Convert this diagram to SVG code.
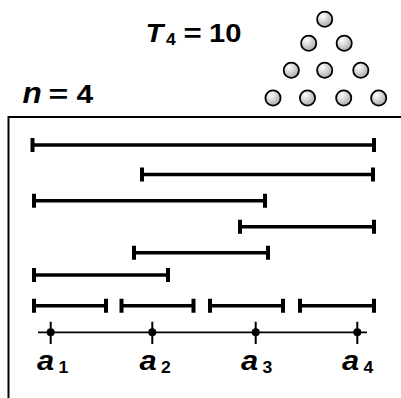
<svg xmlns="http://www.w3.org/2000/svg" width="401" height="398" viewBox="0 0 401 398">
<defs>
<radialGradient id="ball" cx="35%" cy="30%" r="75%">
<stop offset="0" stop-color="#ffffff"/>
<stop offset="1" stop-color="#a8a8a8"/>
</radialGradient>
<style>
.t{font-family:"Liberation Sans",Arial,sans-serif;font-weight:bold;fill:#000}
.i{font-style:italic}
.big{font-size:26px}
.sub{font-size:16px}
.ball{fill:url(#ball);stroke:#000;stroke-width:1.8}
.bar{stroke:#000;stroke-width:3.5;fill:none}
.cap{stroke:#000;stroke-width:4;fill:none}
.frame{stroke:#000;stroke-width:2;fill:none}
.axis{stroke:#000;stroke-width:1.8;fill:none}
.tick{stroke:#000;stroke-width:2}
.dot{fill:#000}
</style>
</defs>
<rect width="401" height="398" fill="#fff"/>

<g id="title-T4">
<text class="t i big" transform="translate(145.5,41.5) scale(1.12,1)">T</text>
<text class="t sub" transform="translate(166,44.7) scale(1.1,1)">4</text>
<text class="t big" transform="translate(183.5,41.5) scale(1.2,1)">=</text>
<text class="t big" transform="translate(209,41.5) scale(1.12,1)">10</text>
</g>

<g id="title-n">
<text class="t i" font-size="30" transform="translate(22.5,103.3) scale(1.05,1)">n</text>
<text class="t big" transform="translate(48.5,103.3) scale(1.3,1)">=</text>
<text class="t big" transform="translate(76.5,103.3) scale(1.15,1)">4</text>
</g>

<g id="triangle">
<circle class="ball" cx="324.7" cy="19.2" r="7.6"/>
<circle class="ball" cx="308.7" cy="43.2" r="7.6"/>
<circle class="ball" cx="344.2" cy="43.2" r="7.6"/>
<circle class="ball" cx="291.3" cy="70.2" r="7.6"/>
<circle class="ball" cx="324.7" cy="70.2" r="7.6"/>
<circle class="ball" cx="360.8" cy="70.2" r="7.6"/>
<circle class="ball" cx="273" cy="98" r="7.6"/>
<circle class="ball" cx="307.5" cy="98" r="7.6"/>
<circle class="ball" cx="343.7" cy="98" r="7.6"/>
<circle class="ball" cx="378.7" cy="98" r="7.6"/>
</g>

<g id="frame">
<path class="frame" d="M8.5,398 V117 H401"/>
</g>

<g id="intervals">
<g id="i1"><path class="bar" d="M32.5,145 H374"/><path class="cap" d="M32.5,138 v14 M374,138 v14"/></g>
<g id="i2"><path class="bar" d="M142,174.5 H373"/><path class="cap" d="M142,167.5 v14 M373,167.5 v14"/></g>
<g id="i3"><path class="bar" d="M34,200.7 H265"/><path class="cap" d="M34,193.7 v14 M265,193.7 v14"/></g>
<g id="i4"><path class="bar" d="M240,226.7 H374"/><path class="cap" d="M240,219.7 v14 M374,219.7 v14"/></g>
<g id="i5"><path class="bar" d="M134,252.7 H268"/><path class="cap" d="M134,245.7 v14 M268,245.7 v14"/></g>
<g id="i6"><path class="bar" d="M34,275 H168"/><path class="cap" d="M34,268 v14 M168,268 v14"/></g>
<g id="i7a"><path class="bar" d="M34,305.7 H106"/><path class="cap" d="M34,298.7 v14 M106,298.7 v14"/></g>
<g id="i7b"><path class="bar" d="M121.5,305.7 H193.5"/><path class="cap" d="M121.5,298.7 v14 M193.5,298.7 v14"/></g>
<g id="i7c"><path class="bar" d="M210,305.7 H283"/><path class="cap" d="M210,298.7 v14 M283,298.7 v14"/></g>
<g id="i7d"><path class="bar" d="M300,305.7 H374"/><path class="cap" d="M300,298.7 v14 M374,298.7 v14"/></g>
</g>

<g id="axis">
<path class="axis" d="M38,332.3 H367"/>
<path class="tick" d="M50.7,321.7 V344 M152.3,321.7 V344 M255.7,321.7 V344 M357.3,321.7 V344"/>
<circle class="dot" cx="50.7" cy="332.3" r="4"/>
<circle class="dot" cx="152.3" cy="332.3" r="4"/>
<circle class="dot" cx="255.7" cy="332.3" r="4"/>
<circle class="dot" cx="357.3" cy="332.3" r="4"/>
</g>

<g id="labels">
<g id="a1"><text class="t i" font-size="28" transform="translate(37,370) scale(1.1,1)">a</text><text class="t sub" transform="translate(58.5,373) scale(1.1,1)">1</text></g>
<g id="a2"><text class="t i" font-size="28" transform="translate(139.5,370) scale(1.1,1)">a</text><text class="t sub" transform="translate(161,373) scale(1.1,1)">2</text></g>
<g id="a3"><text class="t i" font-size="28" transform="translate(241,370) scale(1.1,1)">a</text><text class="t sub" transform="translate(262.5,373) scale(1.1,1)">3</text></g>
<g id="a4"><text class="t i" font-size="28" transform="translate(342,370) scale(1.1,1)">a</text><text class="t sub" transform="translate(363.5,373) scale(1.1,1)">4</text></g>
</g>
</svg>
